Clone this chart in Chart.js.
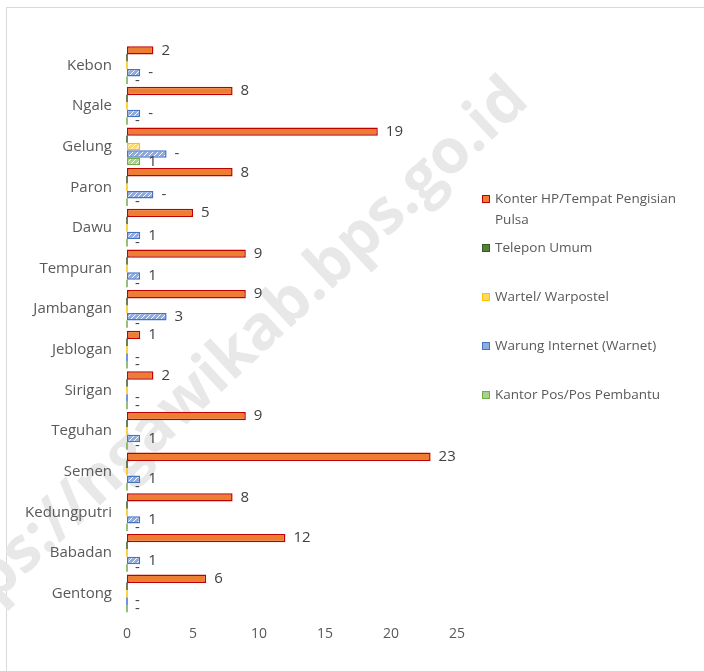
<!DOCTYPE html>
<html>
<head>
<meta charset="utf-8">
<script src="https://cdn.jsdelivr.net/npm/chart.js@4.4.1/dist/chart.umd.min.js"></script>
<style>
    body { margin: 0; background: #fff; overflow: hidden; }
    #wrap { position: relative; width: 704px; height: 671px; overflow: hidden; font-family: "Open Sans", sans-serif; }
    #frame { position: absolute; left: 6px; top: 7px; width: 730px; height: 700px; border: 1px solid #d9d9d9; }
    #mark { position: absolute; left: 212px; top: 368px; white-space: nowrap; font-weight: bold; font-size: 62px;
        color: #e8e8e8; transform: translate(-50%, -50%) rotate(-43deg); }
    #myChart { position: absolute; left: 0; top: 0; }
    #legend { position: absolute; left: 482px; top: 188px; width: 205px; color: #595959; font-size: 13.5px; }
    .item { position: relative; padding-left: 13px; line-height: 21px; height: 49px; }
    .box { position: absolute; left: 0; top: 7px; width: 6px; height: 6px; border: 1px solid; }
</style>
</head>
<body>
<div id="wrap">
    <div id="frame"></div>
    <div id="mark">https://ngawikab.bps.go.id</div>
    <canvas id="myChart" width="704" height="671"></canvas>
    <div id="legend"></div>
</div>
<script>
const desa = ['Kebon', 'Ngale', 'Gelung', 'Paron', 'Dawu', 'Tempuran', 'Jambangan', 'Jeblogan',
    'Sirigan', 'Teguhan', 'Semen', 'Kedungputri', 'Babadan', 'Gentong'];

const konter = [2, 8, 19, 8, 5, 9, 9, 1, 2, 9, 23, 8, 12, 6];
const telepon = [0, 0, 0, 0, 0, 0, 0, 0, 0, 0, 0, 0, 0, 0];
const wartel = [0, 0, 1, 0, 0, 0, 0, 0, 0, 0, 0, 0, 0, 0];
const warnet = [1, 1, 3, 2, 1, 1, 3, 0, 0, 1, 1, 1, 1, 0];
const kantorPos = [0, 0, 1, 0, 0, 0, 0, 0, 0, 0, 0, 0, 0, 0];

// text shown next to the bars (taken from the table, so "-" where empty)
const warnetText = ['-', '-', '-', '-', '1', '1', '3', '-', '-', '1', '1', '1', '1', '-'];
const kantorPosText = ['-', '-', '1', '-', '-', '-', '-', '-', '-', '-', '-', '-', '-', '-'];

const xTicks = [0, 5, 10, 15, 20, 25];

function hatch(bg, line) {
    let c = document.createElement('canvas');
    c.width = 5;
    c.height = 5;
    let g = c.getContext('2d');
    g.fillStyle = bg;
    g.fillRect(0, 0, 5, 5);
    g.strokeStyle = line;
    g.lineWidth = 1;
    g.beginPath();
    g.moveTo(0, 5);
    g.lineTo(5, 0);
    g.stroke();
    return g.createPattern(c, 'repeat');
}

const series = [
    { label: 'Konter HP/Tempat Pengisian Pulsa', data: konter, fill: '#ed7d31', border: '#c00000', size: 1.12 },
    { label: 'Telepon Umum', data: telepon, fill: hatch('#548235', '#a9d18e'), border: '#375623', box: '#548235' },
    { label: 'Wartel/ Warpostel', data: wartel, fill: hatch('#ffd966', '#ffffff'), border: '#ffc000', box: '#ffd966' },
    { label: 'Warung Internet (Warnet)', data: warnet, fill: hatch('#8faadc', '#ffffff'), border: '#4472c4', box: '#8faadc', text: warnetText },
    { label: 'Kantor Pos/Pos Pembantu', data: kantorPos, fill: hatch('#a9d18e', '#ffffff'), border: '#70ad47', box: '#a9d18e', text: kantorPosText }
];

// value labels after each bar
const barLabels = {
    id: 'barLabels',
    afterDatasetsDraw(chart) {
        const ctx = chart.ctx;
        ctx.save();
        // zero bars still show as a thin stroke at the axis
        chart.data.datasets.forEach((ds, i) => {
            chart.getDatasetMeta(i).data.forEach((bar, j) => {
                if (ds.data[j] !== 0) return;
                ctx.strokeStyle = ds.borderColor;
                ctx.lineWidth = 1.5;
                ctx.beginPath();
                ctx.moveTo(bar.base, bar.y - bar.height / 2);
                ctx.lineTo(bar.base, bar.y + bar.height / 2);
                ctx.stroke();
            });
        });
        ctx.font = '15px "Open Sans"';
        ctx.fillStyle = '#404040';
        ctx.textBaseline = 'middle';
        chart.data.datasets.forEach((ds, i) => {
            let texts = ds.labelTexts;
            if (!texts) return;
            chart.getDatasetMeta(i).data.forEach((bar, j) => {
                ctx.fillText(texts[j], bar.x + 8, bar.y);
            });
        });
        ctx.restore();
    }
};

var ctx = document.getElementById('myChart');
var myChart = new Chart(ctx, {
    type: 'bar',
    data: {
        labels: desa,
        datasets: series.map(s => ({
            label: s.label,
            data: s.data,
            backgroundColor: s.fill,
            borderColor: s.border,
            borderWidth: 1.5,
            borderSkipped: false,
            categoryPercentage: 0.92,
            barPercentage: s.size || 1,
            labelTexts: s.text || (s.data === konter ? konter.map(String) : null)
        }))
    },
    options: {
        indexAxis: 'y',
        responsive: false,
        animation: false,
        layout: { padding: { top: 45, right: 247, left: 0, bottom: 0 } },
        plugins: {
            legend: { display: false },
            tooltip: { enabled: false }
        },
        scales: {
            x: {
                min: 0,
                max: 25,
                afterBuildTicks: (s) => { s.ticks = xTicks.map(v => ({ value: v })); },
                afterFit: (s) => { s.height = 57; },
                grid: { display: false, drawTicks: false },
                border: { display: false },
                ticks: { color: '#595959', padding: 12, font: { family: 'Open Sans', size: 14 } }
            },
            y: {
                afterFit: (s) => { s.width = 127; },
                grid: { display: false, drawTicks: false },
                border: { display: false },
                ticks: { color: '#595959', padding: 15, font: { family: 'Open Sans', size: 15 } }
            }
        }
    },
    plugins: [barLabels]
});

// legend as html so the first entry can wrap like the original
let legend = document.getElementById('legend');
series.forEach(s => {
    let item = document.createElement('div');
    item.className = 'item';
    let box = document.createElement('span');
    box.className = 'box';
    box.style.borderColor = s.border;
    box.style.background = s.box || s.fill;
    item.appendChild(box);
    item.appendChild(document.createTextNode(s.label));
    legend.appendChild(item);
});
</script>
</body>
</html>
